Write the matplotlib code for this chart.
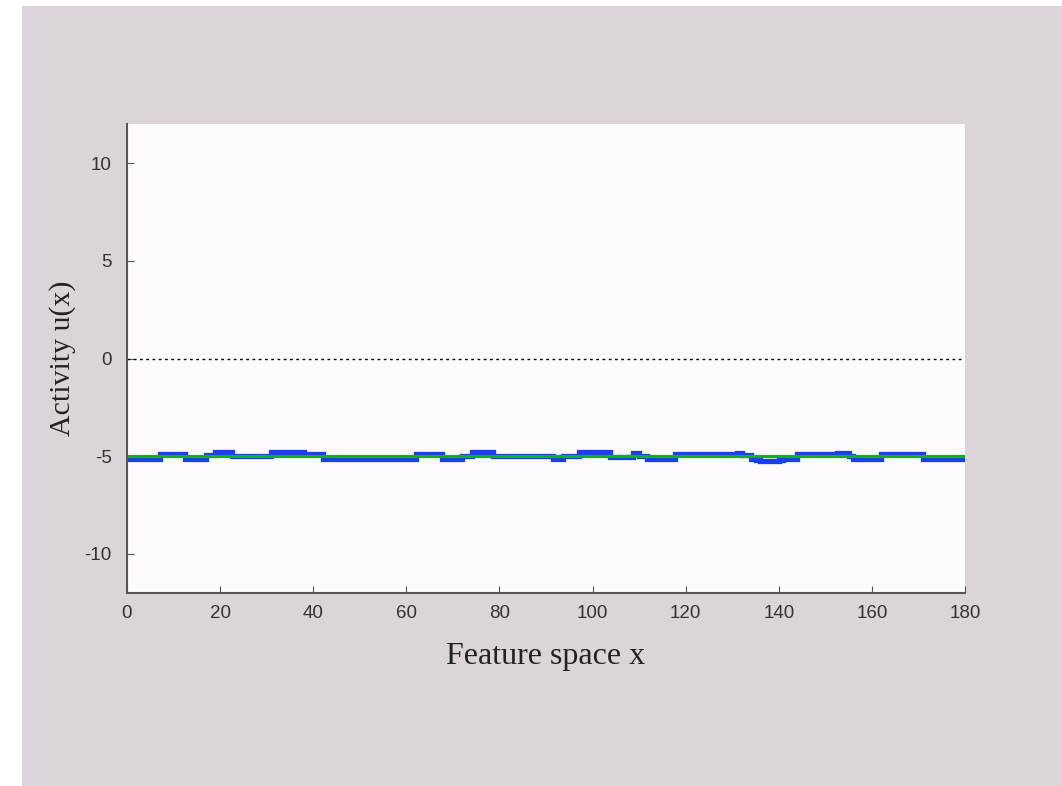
import matplotlib.pyplot as plt
from matplotlib.patches import Rectangle

plt.rcParams['axes.unicode_minus'] = False

# step edges (feature space x) and blue activity level on each step
x_edges = [0, 7, 12.5, 17, 19, 22.5, 31, 38, 42, 62, 67.7, 72, 74, 78.6, 91.5, 93.7,
           97, 103.7, 108.7, 110, 111.7, 117.7, 131, 132, 134, 135, 136, 140, 141,
           144, 152.5, 155, 156, 162, 171, 180]
u_vals = [-5.15, -4.9, -5.15, -4.95, -4.8, -5.0, -4.8, -4.9, -5.12, -4.9, -5.12,
          -5.0, -4.8, -5.0, -5.12, -5.0, -4.8, -5.02, -4.82, -5.0, -5.12, -4.9,
          -4.82, -4.95, -5.12, -5.2, -5.27, -5.2, -5.12, -4.9, -4.82, -5.0, -5.12,
          -4.9, -5.12]
x_input = [0, 180]
input_level = [-5.0, -5.0]

xticks = [0, 20, 40, 60, 80, 100, 120, 140, 160, 180]
yticks = [-10, -5, 0, 5, 10]

fig = plt.figure(figsize=(10.62, 7.86), dpi=100, facecolor='#dbd4da')
# white strips along the left and top edges of the screenshot
fig.patches.append(Rectangle((0, 0), 22 / 1062, 1, transform=fig.transFigure,
                             facecolor='white', edgecolor='none'))
fig.patches.append(Rectangle((0, 780 / 786), 1, 6 / 786, transform=fig.transFigure,
                             facecolor='white', edgecolor='none'))

ax = fig.add_axes([127 / 1062, 193 / 786, 838 / 1062, 469 / 786])
ax.set_facecolor('#fdfbfe')

ax.stairs(u_vals, x_edges, color='#1f3cf0', linewidth=3.8, baseline=None)
ax.plot(x_input, input_level, color='#12b01c', linewidth=2.3)
ax.plot([0, 180], [0, 0], color='black', linestyle=(0, (2, 2.5)), linewidth=1)

ax.set_xlim(0, 180)
ax.set_ylim(-12, 12)
ax.set_xticks(xticks)
ax.set_yticks(yticks)

for s in ['top', 'right']:
    ax.spines[s].set_visible(False)
for s in ['left', 'bottom']:
    ax.spines[s].set_color('#555555')
    ax.spines[s].set_linewidth(1.5)

ax.tick_params(direction='in', length=5, color='#555555', labelcolor='#333333',
               labelsize=13.5)
ax.tick_params(axis='x', pad=9)
ax.tick_params(axis='y', pad=11)
for lab in ax.get_xticklabels() + ax.get_yticklabels():
    lab.set_family('Liberation Sans')

ax.set_xlabel('Feature space x', family='Liberation Serif', fontsize=23,
              color='#222222', labelpad=14)
ax.set_ylabel('Activity u(x)', family='Liberation Serif', fontsize=21.5,
              color='#222222', labelpad=6)

fig.savefig('out.png', dpi=100, facecolor=fig.get_facecolor())
